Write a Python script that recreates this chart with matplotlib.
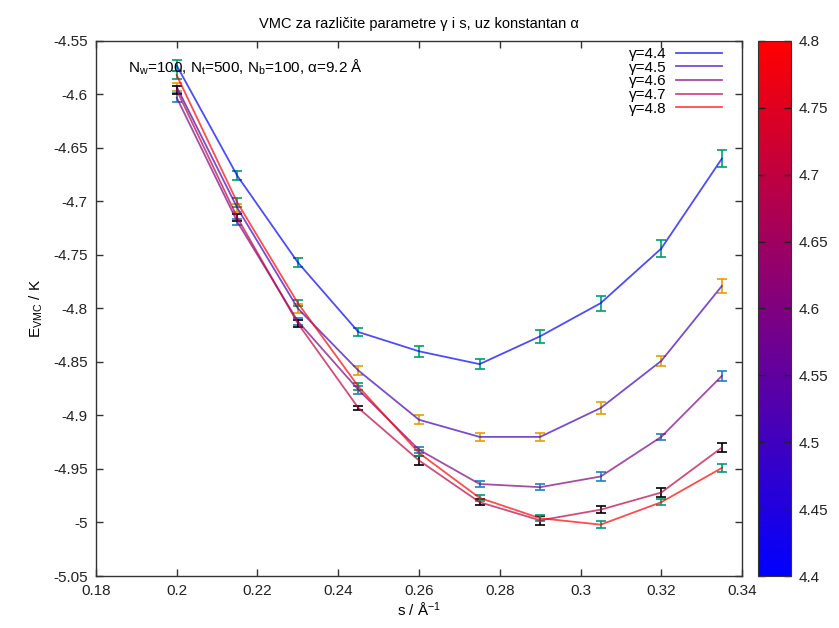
import numpy as np
import matplotlib
matplotlib.use("Agg")
import matplotlib.pyplot as plt
from matplotlib.colors import LinearSegmentedColormap, Normalize
from matplotlib.cm import ScalarMappable

plt.rcParams['font.family'] = ['Liberation Sans', 'DejaVu Sans']
plt.rcParams['mathtext.fontset'] = 'custom'
plt.rcParams['mathtext.rm'] = 'Liberation Sans'

# s values (1/Angstrom)
s = [0.2, 0.215, 0.23, 0.245, 0.26, 0.275, 0.29, 0.305, 0.32, 0.335]
gammas = [4.4, 4.5, 4.6, 4.7, 4.8]

# E_VMC per gamma
e_44 = [-4.573, -4.676, -4.757, -4.822, -4.840, -4.852, -4.826, -4.795, -4.744, -4.660]
e_45 = [-4.593, -4.706, -4.800, -4.858, -4.904, -4.920, -4.920, -4.893, -4.849, -4.779]
e_46 = [-4.603, -4.719, -4.812, -4.876, -4.932, -4.964, -4.967, -4.957, -4.920, -4.863]
e_47 = [-4.596, -4.715, -4.814, -4.893, -4.942, -4.981, -4.998, -4.988, -4.972, -4.930]
e_48 = [-4.582, -4.701, -4.795, -4.873, -4.935, -4.977, -4.996, -5.002, -4.981, -4.949]

# error bars
err_44 = [0.005, 0.004, 0.004, 0.004, 0.005, 0.005, 0.006, 0.007, 0.008, 0.008]
err_45 = [0.004, 0.004, 0.004, 0.004, 0.004, 0.004, 0.004, 0.006, 0.005, 0.007]
err_46 = [0.004, 0.003, 0.003, 0.004, 0.003, 0.003, 0.003, 0.004, 0.003, 0.005]
err_47 = [0.004, 0.003, 0.003, 0.002, 0.004, 0.003, 0.004, 0.003, 0.004, 0.004]
err_48 = [0.004, 0.004, 0.003, 0.003, 0.003, 0.003, 0.003, 0.003, 0.003, 0.004]

energies = [e_44, e_45, e_46, e_47, e_48]
errors = [err_44, err_45, err_46, err_47, err_48]
bar_colors = ['#009e73', '#e69f00', '#1f7fc4', '#000000', '#009e73']

cmap = LinearSegmentedColormap.from_list('br', ['#0000ff', '#ff0000'])
norm = Normalize(vmin=4.4, vmax=4.8)

fig = plt.figure(figsize=(8.39, 6.28), dpi=100)
ax = fig.add_axes([0.1144, 0.0828, 0.770, 0.852])

for g, e, err, bc in zip(gammas, energies, errors, bar_colors):
    ax.errorbar(s, e, yerr=err, fmt='none', ecolor=bc, elinewidth=1.2,
                capsize=3.5, capthick=1.2, zorder=2)
    ax.plot(s, e, color=cmap(norm(g)), alpha=0.7, lw=1.3,
            label=f'γ={g}', zorder=3)

ax.set_xlim(0.18, 0.34)
ax.set_ylim(-5.05, -4.55)
ax.set_xticks(np.arange(0.18, 0.341, 0.02))
ax.set_xticklabels(['0.18', '0.2', '0.22', '0.24', '0.26', '0.28', '0.3', '0.32', '0.34'])
ax.set_yticks(np.arange(-5.05, -4.549, 0.05))
ax.set_yticklabels(['-5.05', '-5', '-4.95', '-4.9', '-4.85', '-4.8', '-4.75',
                    '-4.7', '-4.65', '-4.6', '-4.55'])
ax.tick_params(direction='in', top=True, right=True, length=5, width=1,
               labelsize=11, color='#333333', labelcolor='#222222', pad=6)
for sp in ax.spines.values():
    sp.set_color('#333333')
    sp.set_linewidth(1)

ax.set_xlabel(r's / Å$\mathrm{^{-1}}$', fontsize=11, labelpad=2)
ax.set_ylabel(r'E$\mathrm{_{VMC}}$ / K', fontsize=11, labelpad=6)
ax.set_title('VMC za različite parametre γ i s, uz konstantan α',
             fontsize=10.5, pad=9)

ax.text(0.049, 0.95, r'N$\mathrm{_w}$=100, N$\mathrm{_t}$=500, N$\mathrm{_b}$=100, α=9.2 Å',
        transform=ax.transAxes, fontsize=11, va='center', ha='left')

leg = ax.legend(loc='upper right', bbox_to_anchor=(0.978, 1.0), frameon=False,
                markerfirst=False, fontsize=11, labelspacing=-0.02,
                handlelength=3.0, handletextpad=0.6, borderaxespad=0.0)

cax = fig.add_axes([0.9035, 0.0828, 0.039, 0.852])
cb = fig.colorbar(ScalarMappable(norm=norm, cmap=cmap), cax=cax)
cb.set_ticks(np.arange(4.4, 4.801, 0.05))
cb.set_ticklabels(['4.4', '4.45', '4.5', '4.55', '4.6', '4.65', '4.7', '4.75', '4.8'])
cax.tick_params(direction='in', left=True, right=True, length=5, width=1,
                labelsize=11, color='#222222', labelcolor='#222222', pad=6)
cb.outline.set_color('#333333')

fig.savefig('out.png', dpi=100)
